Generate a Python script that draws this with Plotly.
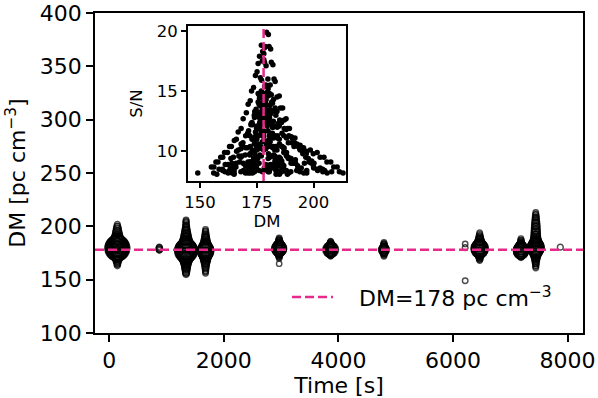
import plotly.graph_objects as go

# ---------------- data ----------------
DM_REF = 178

burst_times = [140, 873, 1340, 1680, 2965, 3864, 4795, 6213, 6466, 7187, 7445, 7874]

dm_b01 = [163, 164.2, 165, 165.8, 167.1, 168, 168.8, 170.1, 171, 171.9, 172.6, 173.2, 174.1, 174.7, 175.6, 176, 176.6, 177.1, 177.4, 178.1, 178.4, 178.7, 179.3, 180.1, 180.4, 181.1, 181.4, 182.1, 182.6, 183.1, 183.9, 184.9, 185.4, 186.4, 187.1, 187.9, 188.6, 189.4, 190.6, 191.8, 193.2, 194.1, 195.3, 196.8, 198.1, 199.2, 200.1, 201.8,
          172, 175, 176.5, 179, 180.5, 182, 184, 186, 178, 170]
snr_b01 = [8.4, 8.2, 8.9, 8.7, 9.6, 9.5, 10.4, 10.3, 11.4, 11.3, 12.3, 12.2, 13.3, 13.5, 14.8, 14.7, 16.1, 15.9, 17.5, 17.6, 18.6, 18.7, 19.9, 19.7, 18.7, 18.5, 17.4, 17.2, 16.0, 15.8, 14.5, 14.6, 13.6, 13.6, 12.6, 12.7, 11.9, 11.9, 11.1, 11.1, 10.4, 10.5, 9.8, 9.8, 9.1, 9.2, 8.6, 8.4,
           9.1, 10.4, 12.1, 14.6, 11.3, 9.6, 12.0, 9.2, 8.4, 8.3]

dm_b02 = [177.5, 178.3, 179, 179.7, 180.5]
snr_b02 = [8.3, 8.6, 8.5, 8.7, 8.3]

dm_b03 = [155, 156.1, 157, 157.9, 159.1, 160, 160.8, 162.1, 163, 163.8, 165.1, 166, 166.8, 168.1, 169, 170.4, 171.2, 172.1, 172.7, 173.6, 174.4, 175.1, 175.6, 176.2, 177, 177.6, 178.1, 178.4, 179.1, 179.9, 180.9, 181.4, 182.4, 183.1, 183.9, 185.1, 185.9, 187.1, 187.9, 189.1, 190.2, 191.6, 192.7, 194.1, 195.2, 196.6, 197.7, 199.1, 200.2, 201.6, 202.9, 204.1, 204.9, 206,
          160, 164, 168, 171, 174, 176, 178.5, 181, 184, 187, 190, 193, 197, 173, 180]
snr_b03 = [8.7, 8.7, 9.1, 9.1, 9.5, 9.5, 9.9, 9.9, 10.4, 10.4, 10.9, 11.0, 11.6, 11.9, 12.7, 13.2, 13.9, 14.2, 15.0, 15.3, 16.3, 16.6, 17.3, 17.9, 18.8, 18.3, 18.1, 17.4, 17.1, 16.0, 15.5, 14.7, 14.3, 13.6, 13.3, 12.6, 12.4, 11.9, 11.8, 11.3, 11.2, 10.7, 10.6, 10.1, 10.0, 9.5, 9.4, 9.0, 9.0, 8.5, 8.6, 8.3, 8.4, 8.2,
           8.4, 9.0, 10.2, 11.5, 12.8, 13.9, 15.4, 13.1, 11.2, 10.3, 9.3, 8.8, 8.4, 10.0, 10.6]

dm_b04 = [156, 157.4, 158.4, 159.9, 161.1, 162.2, 163.6, 164.7, 166.1, 166.9, 168.1, 168.9, 170.1, 171.4, 172.4, 172.9, 173.9, 174.4, 175.6, 176.2, 177, 177.6, 178.1, 178.4, 179.1, 179.7, 180.6, 181.2, 182.1, 182.9, 184.1, 184.9, 186.1, 186.9, 188.1, 188.9, 190.1, 190.9, 192.1, 193.2, 194.6, 195.7, 197,
          165, 169, 172, 175, 177.5, 180, 183, 186, 190]
snr_b04 = [8.2, 8.1, 8.5, 8.5, 8.9, 8.9, 9.4, 9.5, 10.0, 10.1, 10.6, 10.7, 11.3, 11.7, 12.2, 12.4, 13.0, 13.2, 14.1, 14.4, 15.0, 14.6, 14.5, 13.9, 13.8, 13.1, 12.8, 12.2, 12.0, 11.3, 11.1, 10.5, 10.4, 9.9, 9.9, 9.4, 9.4, 9.0, 9.0, 8.6, 8.6, 8.2, 8.2,
           8.4, 9.0, 9.8, 11.0, 12.3, 10.9, 9.6, 8.7, 8.3]

dm_b05 = [165, 170, 171.1, 171.9, 172.9, 173.6, 174.2, 175.1, 175.7, 176.6, 176.9, 177.6, 177.9, 178.4, 178.6, 179, 179.6, 179.9, 180.6, 180.9, 181.9, 182.4, 183.4, 183.9, 184.9, 185.4, 186.4, 186.9, 188.1, 189,
          174, 176, 178, 180, 182]
snr_b05 = [8.1, 8.2, 8.2, 8.7, 8.9, 9.4, 9.6, 10.3, 10.6, 11.4, 11.7, 12.4, 12.7, 13.3, 13.5, 14.0, 13.4, 13.2, 12.5, 12.3, 11.5, 11.1, 10.4, 10.1, 9.5, 9.4, 8.9, 8.8, 8.3, 8.2,
           8.3, 9.0, 10.1, 9.4, 8.6]

dm_b06 = [172, 172.9, 173.4, 174.4, 174.9, 175.6, 175.9, 176.6, 176.9, 177.6, 178, 178.6, 178.9, 179.6, 179.9, 180.9, 181.4, 182.4, 182.9, 183.9, 184.4, 185.4, 186,
          175, 177, 179, 181]
snr_b06 = [8.3, 8.4, 9.0, 9.3, 10.1, 10.5, 11.3, 11.8, 12.7, 13.3, 14.4, 13.5, 13.0, 12.1, 11.7, 10.8, 10.4, 9.7, 9.5, 8.9, 8.8, 8.3, 8.3,
           8.5, 9.6, 10.2, 8.9]

dm_b07 = [172, 173.1, 173.9, 174.9, 175.4, 176.3, 176.7, 177.5, 178, 178.8, 179.2, 180.1, 180.7, 181.8, 182.4, 183.4, 183.9, 185,
          176, 179]
snr_b07 = [8.2, 8.2, 8.7, 8.8, 9.4, 9.7, 10.4, 10.8, 11.5, 10.8, 10.5, 9.8, 9.5, 8.9, 8.8, 8.4, 8.4, 8.1,
           8.4, 8.9]

dm_b08 = [149, 180, 183.5]
snr_b08 = [8.2, 8.3, 8.1]

dm_b09 = [168, 169.1, 169.9, 171.1, 171.9, 173.1, 173.9, 174.9, 175.4, 176.3, 176.7, 177.4, 177.7, 178.5, 179, 179.6, 179.9, 180.8, 181.2, 182.3, 182.9, 184.1, 184.9, 186.1, 186.9, 188.1, 188.9, 190.1, 190.9, 192.6, 194,
          171, 174, 176, 178, 180, 182, 185, 188]
snr_b09 = [8.3, 8.4, 8.9, 9.1, 9.7, 10.1, 10.9, 11.2, 12.0, 12.4, 13.2, 13.6, 14.4, 14.8, 15.5, 14.9, 14.6, 13.8, 13.4, 12.5, 12.1, 11.3, 11.0, 10.4, 10.2, 9.6, 9.5, 9.0, 9.0, 8.4, 8.3,
           8.3, 9.2, 10.4, 11.7, 12.6, 10.3, 9.0, 8.4]

dm_b10 = [171, 172.1, 172.9, 173.9, 174.4, 175.1, 175.4, 176.1, 176.4, 177.1, 177.4, 178.1, 178.4, 179.4, 179.9, 180.9, 181.4, 182.4, 182.9, 184.1, 184.9, 186.1, 186.9, 188.5,
          174, 176, 178, 180, 183]
snr_b10 = [8.7, 9.1, 9.9, 10.6, 11.6, 12.1, 12.9, 13.2, 13.8, 13.8, 14.0, 13.7, 13.5, 12.7, 12.3, 11.5, 11.1, 10.4, 10.1, 9.4, 9.1, 8.6, 8.5, 8.1,
           8.6, 10.2, 11.2, 10.4, 8.8]

dm_b11 = [161, 162.4, 163.4, 164.9, 165.9, 167.4, 168.4, 169.9, 170.9, 172.1, 172.9, 174.1, 174.9, 175.9, 176.4, 177.1, 177.4, 178.1, 178.4, 179.1, 179.4, 180, 180.6, 180.9, 181.6, 181.9, 182.9, 183.4, 184.4, 184.9, 186.1, 186.9, 188.1, 188.9, 190.4, 191.4, 192.9, 193.9, 195.6, 196.9, 198.6, 199.9, 201.6, 202.9, 204.6, 205.9, 207.6, 208.9, 210.4, 211.4, 213,
          165, 170, 174, 177, 179, 182, 185, 188, 192, 196, 200, 204, 208, 183]
snr_b11 = [8.3, 8.2, 8.6, 8.6, 9.0, 9.1, 9.6, 9.7, 10.3, 10.4, 11.0, 11.2, 11.9, 12.1, 12.7, 12.8, 13.4, 13.6, 14.2, 14.3, 14.8, 15.2, 14.8, 14.7, 14.1, 14.0, 13.3, 13.0, 12.3, 12.1, 11.5, 11.3, 11.1, 10.7, 10.7, 10.4, 10.5, 10.2, 10.3, 10.0, 10.1, 9.8, 9.9, 9.5, 9.5, 9.1, 9.1, 8.7, 8.7, 8.3, 8.2,
           8.2, 8.8, 9.9, 11.4, 12.4, 12.0, 10.6, 9.7, 9.3, 9.0, 8.7, 8.5, 8.3, 9.2]

dm_b12 = [180.5]
snr_b12 = [8.4]

burst_dms = [dm_b01, dm_b02, dm_b03, dm_b04, dm_b05, dm_b06, dm_b07, dm_b08, dm_b09, dm_b10, dm_b11, dm_b12]
burst_snrs = [snr_b01, snr_b02, snr_b03, snr_b04, snr_b05, snr_b06, snr_b07, snr_b08, snr_b09, snr_b10, snr_b11, snr_b12]

# ---------------- build flat arrays ----------------
t_all, dm_all, snr_all = [], [], []
for t, dms, snrs in zip(burst_times, burst_dms, burst_snrs):
    for d, s in zip(dms, snrs):
        t_all.append(t)
        dm_all.append(d)
        snr_all.append(s)

sizes = [1.65 * s - 8 for s in snr_all]

FONT = "DejaVu Sans"
PINK = "#e7298a"

fig = go.Figure()

fig.add_trace(go.Scatter(
    x=t_all, y=dm_all, mode="markers",
    marker=dict(size=sizes, color="rgba(0,0,0,0)",
                line=dict(color="black", width=1.4)),
    showlegend=False, xaxis="x", yaxis="y"))

fig.add_trace(go.Scatter(
    x=dm_all, y=snr_all, mode="markers",
    marker=dict(size=5.5, color="black", line=dict(width=0)),
    showlegend=False, xaxis="x2", yaxis="y2"))

# reference DM lines
fig.add_shape(type="line", xref="x domain", yref="y", x0=0, x1=1, y0=DM_REF, y1=DM_REF,
              line=dict(color=PINK, width=2.5, dash="9px,4px"), layer="above")
fig.add_shape(type="line", xref="x2", yref="y2 domain", x0=DM_REF, x1=DM_REF, y0=0, y1=1,
              line=dict(color=PINK, width=2.5, dash="9px,4px"), layer="above")

# legend (manual)
fig.add_shape(type="line", xref="paper", yref="paper", x0=0.4037, x1=0.4877, y0=0.1125, y1=0.1125,
              line=dict(color=PINK, width=2.5, dash="9px,4px"))
fig.add_annotation(xref="paper", yref="paper", x=0.5369, y=0.1125, xanchor="left", yanchor="middle",
                   text="DM=%d pc cm<sup>\u22123</sup>" % DM_REF, showarrow=False,
                   font=dict(family=FONT, size=22, color="black"))

axis_common = dict(showgrid=False, zeroline=False, showline=True, mirror=True,
                   linecolor="black", linewidth=1.8, ticks="outside", tickcolor="black",
                   tickwidth=1.6, color="black", automargin=False)

fig.update_layout(
    width=598, height=398, autosize=False,
    margin=dict(l=95, r=15, t=13, b=65),
    paper_bgcolor="white", plot_bgcolor="white",
    font=dict(family=FONT, color="black"),
    xaxis=dict(axis_common, range=[-250, 8270], tickvals=[0, 2000, 4000, 6000, 8000],
               ticklen=7, tickfont=dict(size=22),
               title=dict(text="Time [s]", font=dict(size=22), standoff=6)),
    yaxis=dict(axis_common, range=[100, 400], tickvals=[100, 150, 200, 250, 300, 350, 400],
               ticklen=7, tickfont=dict(size=22),
               title=dict(text="DM [pc cm<sup>\u22123</sup>]", font=dict(size=22), standoff=8)),
    xaxis2=dict(axis_common, domain=[0.1906, 0.5143], anchor="y2", range=[144.7, 214.3],
                tickvals=[150, 175, 200], ticklen=5, tickfont=dict(size=16.5),
                title=dict(text="DM", font=dict(size=16.5), standoff=4)),
    yaxis2=dict(axis_common, domain=[0.475, 0.959], anchor="x2", range=[7.53, 20.4],
                tickvals=[10, 15, 20], ticklen=5, tickfont=dict(size=16.5),
                title=dict(text="S/N", font=dict(size=16.5), standoff=10)),
)

fig.write_html("out.html", config={"displayModeBar": False},
               post_script="document.body.style.margin='0';document.body.style.overflow='hidden';")
